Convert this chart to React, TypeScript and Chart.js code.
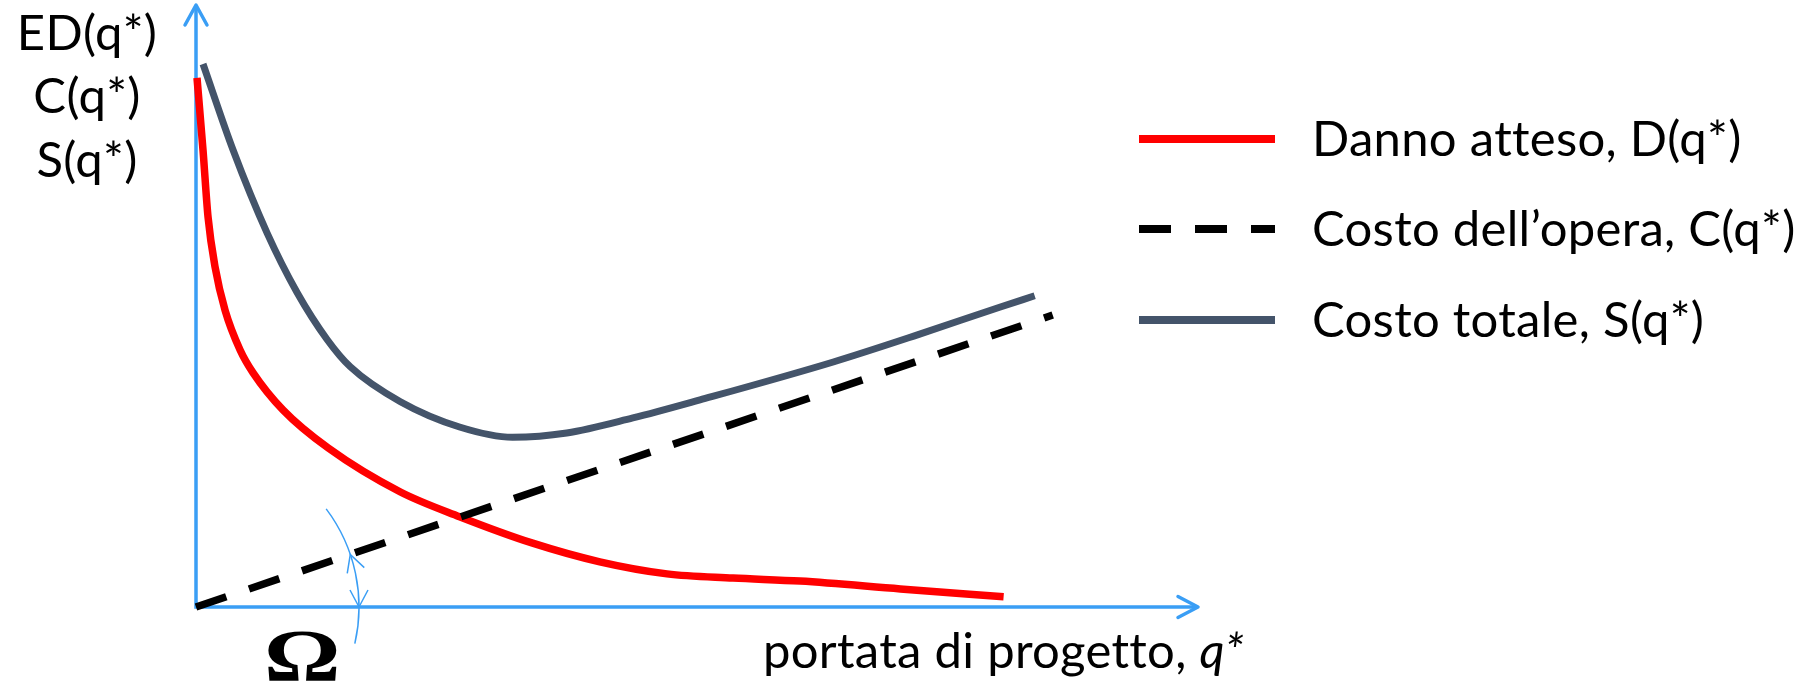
import React, { useEffect, useRef } from "react";
import { Chart, registerables } from "chart.js";

Chart.register(...registerables);

// ---- Data (abstract units) ----
const dannoQ = [0.01, 0.07, 0.12, 0.19, 0.29, 0.44, 0.57, 0.87, 1.32, 2.04, 2.63, 3.36, 4.03, 4.7, 5.36, 6.03, 7.03, 8.06];
const dannoAtteso = [8.79, 7.59, 6.48, 5.65, 4.93, 4.27, 3.89, 3.27, 2.64, 1.91, 1.5, 1.06, 0.75, 0.55, 0.48, 0.43, 0.3, 0.17];

const costoOperaQ = [0, 8.55];
const costoOpera = [0, 4.85];

const costoTotQ = [0.07, 0.37, 0.71, 1.01, 1.31, 1.54, 2.04, 2.63, 3.16, 3.7, 4.36, 5.03, 6.36, 7.2, 8.02, 8.37];
const costoTotale = [9.02, 7.59, 6.21, 5.22, 4.44, 3.99, 3.41, 2.99, 2.82, 2.89, 3.14, 3.44, 4.07, 4.52, 4.98, 5.17];

const seriesLabels = ["Danno atteso, D(q*)", "Costo dell\u2019opera, C(q*)", "Costo totale, S(q*)"];
const yAxisLabels = ["ED(q*)", "C(q*)", "S(q*)"];
const xAxisLabel = "portata di progetto, ";
const xAxisVar = "q*";
const angleLabel = "\u03A9";

const xRange = [0, 10];
const yRange = [0, 10];

// ---- Styles ----
const AXIS = "#3A9EF5";
const RED = "#FF0000";
const GREY = "#44546A";
const BLACK = "#000000";
const FONT = '"Lato", "Open Sans", sans-serif';
const FS = 49;

const toPts = (xs: number[], ys: number[]) => xs.map((x, i) => ({ x, y: ys[i] }));

const setText = (ctx: any, font: string) => {
  ctx.font = font;
  try {
    ctx.letterSpacing = "0.3px"; // prevents "tt" ligatures
  } catch (e) {}
};

const overlayPlugin = {
  id: "overlay",
  beforeDatasetsDraw(chart: any) {
    const { ctx } = chart;
    const xs = chart.scales.x;
    const ys = chart.scales.y;
    const ox = xs.getPixelForValue(xs.min);
    const oy = ys.getPixelForValue(ys.min);
    const xe = xs.getPixelForValue(xs.max);
    const ye = ys.getPixelForValue(ys.max);
    ctx.save();
    ctx.strokeStyle = AXIS;
    ctx.lineWidth = 3.5;
    ctx.lineCap = "butt";
    ctx.beginPath();
    ctx.moveTo(ox - 1.75, oy);
    ctx.lineTo(xe - 1, oy);
    ctx.moveTo(ox, oy);
    ctx.lineTo(ox, ye + 1);
    ctx.stroke();
    ctx.lineCap = "round";
    ctx.lineJoin = "round";
    ctx.beginPath();
    ctx.moveTo(xe - 20, oy - 10.5);
    ctx.lineTo(xe, oy);
    ctx.lineTo(xe - 20, oy + 10.5);
    ctx.moveTo(ox - 11, ye + 20);
    ctx.lineTo(ox, ye);
    ctx.lineTo(ox + 11, ye + 20);
    ctx.stroke();
    ctx.restore();
  },
  afterDatasetsDraw(chart: any) {
    const { ctx } = chart;
    const xs = chart.scales.x;
    const ys = chart.scales.y;
    const ox = xs.getPixelForValue(xs.min);
    const oy = ys.getPixelForValue(ys.min);
    ctx.save();

    // angle arc between x axis and cost line
    const cEnd = { x: xs.getPixelForValue(costoOperaQ[1]), y: ys.getPixelForValue(costoOpera[1]) };
    const th = Math.atan2(oy - cEnd.y, cEnd.x - ox);
    const R = 163;
    ctx.strokeStyle = AXIS;
    ctx.lineWidth = 1.5;
    ctx.beginPath();
    ctx.arc(ox, oy, R, -(37 * Math.PI) / 180, (13 * Math.PI) / 180);
    ctx.stroke();
    const arrowAt = (ang: number, dir: number) => {
      const tx = ox + R * Math.cos(ang);
      const ty = oy - R * Math.sin(ang);
      const tgx = -Math.sin(ang) * dir;
      const tgy = -Math.cos(ang) * dir;
      const nx = -tgy, ny = tgx;
      const bx = tx - 17 * tgx, by = ty - 17 * tgy;
      ctx.beginPath();
      ctx.moveTo(bx + 9 * nx, by + 9 * ny);
      ctx.lineTo(tx, ty);
      ctx.lineTo(bx - 9 * nx, by - 9 * ny);
      ctx.stroke();
    };
    arrowAt(0, -1);
    arrowAt(th, 1);

    // Omega
    ctx.fillStyle = "#000";
    ctx.font = 'bold 72px "Liberation Serif", "DejaVu Serif", serif';
    ctx.textAlign = "left";
    ctx.textBaseline = "alphabetic";
    const m = ctx.measureText(angleLabel);
    const inkW = m.actualBoundingBoxLeft + m.actualBoundingBoxRight;
    const inkH = m.actualBoundingBoxAscent + m.actualBoundingBoxDescent;
    ctx.save();
    ctx.translate(268, 682);
    ctx.scale(69 / inkW, 50 / inkH);
    ctx.fillText(angleLabel, m.actualBoundingBoxLeft, -m.actualBoundingBoxDescent);
    ctx.restore();

    // y axis labels
    setText(ctx, `${FS}px ${FONT}`);
    ctx.textAlign = "center";
    const yl = [50, 113, 177];
    yAxisLabels.forEach((t, i) => ctx.fillText(t, 87, yl[i]));

    // x axis label
    ctx.textAlign = "left";
    setText(ctx, `${FS}px ${FONT}`);
    const w1 = ctx.measureText(xAxisLabel).width;
    ctx.fillText(xAxisLabel, 763, 668);
    setText(ctx, `italic ${FS}px ${FONT}`);
    ctx.fillText(xAxisVar, 763 + w1, 668);

    // legend
    const rows = [139, 229, 320];
    chart.data.datasets.forEach((ds: any, i: number) => {
      const y = rows[i];
      ctx.strokeStyle = ds.borderColor;
      ctx.lineWidth = 8;
      ctx.lineCap = "butt";
      ctx.setLineDash(ds.borderDash || []);
      ctx.beginPath();
      ctx.moveTo(1139, y);
      ctx.lineTo(1275, y);
      ctx.stroke();
      ctx.setLineDash([]);
      ctx.fillStyle = "#000";
      setText(ctx, `${FS}px ${FONT}`);
      ctx.textAlign = "left";
      ctx.fillText(ds.label, 1312, y + 17);
    });
    ctx.restore();
  },
};

export default function App() {
  const ref = useRef<HTMLCanvasElement>(null);
  useEffect(() => {
    document.body.style.margin = "0";
    document.body.style.overflow = "hidden";
    const chart = new Chart(ref.current as HTMLCanvasElement, {
      type: "line",
      data: {
        datasets: [
          {
            label: seriesLabels[0],
            data: toPts(dannoQ, dannoAtteso),
            borderColor: RED,
            borderWidth: 7.5,
            cubicInterpolationMode: "monotone",
            pointRadius: 0,
            borderCapStyle: "butt",
            borderJoinStyle: "round",
            clip: false,
            order: 3,
          } as any,
          {
            label: seriesLabels[1],
            data: toPts(costoOperaQ, costoOpera),
            borderColor: BLACK,
            borderWidth: 7.5,
            borderDash: [32, 24],
            tension: 0,
            pointRadius: 0,
            borderCapStyle: "butt",
            clip: false,
            order: 1,
          } as any,
          {
            label: seriesLabels[2],
            data: toPts(costoTotQ, costoTotale),
            borderColor: GREY,
            borderWidth: 7,
            cubicInterpolationMode: "monotone",
            pointRadius: 0,
            borderCapStyle: "butt",
            borderJoinStyle: "round",
            clip: false,
            order: 2,
          } as any,
        ],
      },
      options: {
        animation: false,
        responsive: true,
        maintainAspectRatio: false,
        layout: { padding: { left: 196, right: 1809 - 1198, top: 5, bottom: 688 - 607 } },
        scales: {
          x: { type: "linear", min: xRange[0], max: xRange[1], display: false },
          y: { type: "linear", min: yRange[0], max: yRange[1], display: false },
        },
        plugins: { legend: { display: false }, tooltip: { enabled: false } },
        events: [],
      },
      plugins: [overlayPlugin],
    });
    return () => chart.destroy();
  }, []);
  return (
    <div style={{ position: "absolute", left: 0, top: 0, width: 1809, height: 688, background: "#fff" }}>
      <canvas ref={ref} />
    </div>
  );
}
